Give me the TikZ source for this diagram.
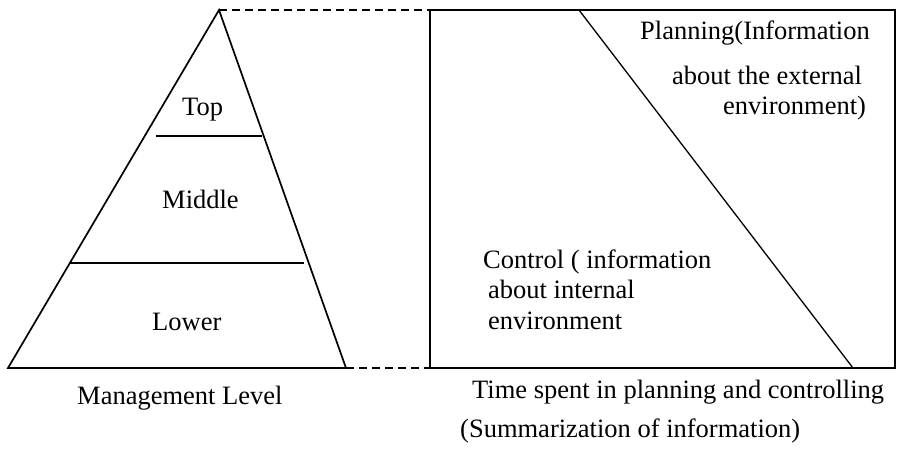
\documentclass[tikz,border=0pt]{standalone}
\usepackage{fontspec}
\setmainfont{Liberation Serif}
\begin{document}
\begin{tikzpicture}[x=1pt,y=-1pt,
  outline/.style={line width=1.7pt,line join=miter},
  divider/.style={line width=1.7pt},
  slope/.style={line width=1.3pt},
  guide/.style={line width=1.5pt,dash pattern=on 8pt off 5pt},
  label/.style={anchor=base west,inner sep=0pt,font=\fontsize{26.5}{31}\selectfont}]
\useasboundingbox (0,0) rectangle (898,465);
% pyramid of management levels
\coordinate (apex) at (219,10);
\coordinate (bl) at (8,368);
\coordinate (br) at (346,368);
\draw[outline] (apex) -- (bl) -- (br) -- cycle;
\coordinate (t1) at (156,136);
\coordinate (t2) at (262,136);
\coordinate (m1) at (70,263);
\coordinate (m2) at (304,263);
\draw[divider] (t1) -- (t2);
\draw[divider] (m1) -- (m2);
\node[label] (top) at (182,116) {Top};
\node[label] (middle) at (162,209) {Middle};
\node[label] (lower) at (152,331) {Lower};
% time box
\coordinate (r1) at (430,10);
\coordinate (r2) at (895,368);
\draw[outline] (r1) rectangle (r2);
\coordinate (d1) at (579,10);
\coordinate (d2) at (853,368);
\draw[slope] (d1) -- (d2);
\coordinate (rbl) at (430,368);
\draw[guide] (apex) -- (r1);
\draw[guide] (br) -- (rbl);
\node[label] (plan1) at (640,40) {Planning(Information};
\node[label] (plan2) at (672,85) {about the external};
\node[label] (plan3) at (723,115) {environment)};
\node[label] (ctrl1) at (483,269) {Control ( information};
\node[label] (ctrl2) at (488,299) {about internal};
\node[label] (ctrl3) at (488,330) {environment};
% captions
\node[label] (mgmt) at (77,405) {Management Level};
\node[label] (time) at (472,399) {Time spent in planning and controlling};
\node[label] (summ) at (460,437) {(Summarization of information)};
\end{tikzpicture}
\end{document}
